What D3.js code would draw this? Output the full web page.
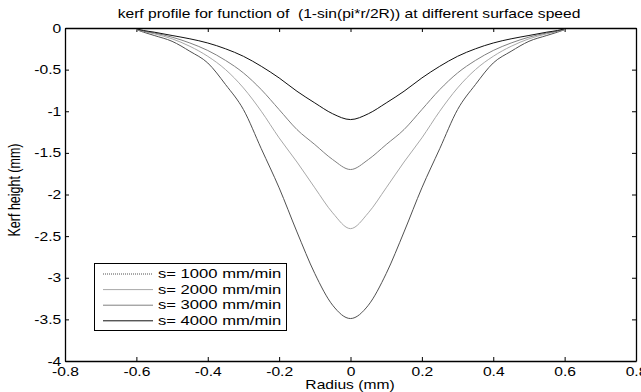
<!DOCTYPE html>
<html><head><meta charset="utf-8">
<script src="https://cdn.jsdelivr.net/npm/d3@7"></script>
<style>
body{margin:0;background:#fff;}
svg text{font-family:"Liberation Sans",Arial,Helvetica,sans-serif;fill:#000;}
</style></head>
<body><svg id="c" width="641" height="392"></svg>
<script>
const radius = [-0.6,-0.58,-0.55,-0.5,-0.45,-0.4,-0.35,-0.3,-0.25,-0.2,-0.15,-0.1,-0.05,0,0.05,0.1,0.15,0.2,0.25,0.3,0.35,0.4,0.45,0.5,0.55,0.58,0.6];
const s1000 = [-0.02,-0.05,-0.09,-0.16,-0.28,-0.42,-0.68,-0.98,-1.45,-1.92,-2.45,-2.95,-3.33,-3.49,-3.33,-2.95,-2.45,-1.92,-1.45,-0.98,-0.68,-0.42,-0.28,-0.16,-0.09,-0.05,-0.02];
const s2000 = [-0.02,-0.04,-0.07,-0.13,-0.22,-0.34,-0.50,-0.72,-1.00,-1.32,-1.61,-1.92,-2.22,-2.41,-2.22,-1.92,-1.61,-1.32,-1.00,-0.72,-0.50,-0.34,-0.22,-0.13,-0.07,-0.04,-0.02];
const s3000 = [-0.02,-0.04,-0.06,-0.11,-0.18,-0.27,-0.39,-0.54,-0.74,-0.98,-1.22,-1.40,-1.58,-1.70,-1.58,-1.40,-1.22,-0.98,-0.74,-0.54,-0.39,-0.27,-0.18,-0.11,-0.06,-0.04,-0.02];
const s4000 = [-0.01,-0.03,-0.05,-0.09,-0.13,-0.18,-0.25,-0.34,-0.46,-0.60,-0.76,-0.90,-1.03,-1.10,-1.03,-0.90,-0.76,-0.60,-0.46,-0.34,-0.25,-0.18,-0.13,-0.09,-0.05,-0.03,-0.01];
const seriesNames = ["s= 1000 mm/min","s= 2000 mm/min","s= 3000 mm/min","s= 4000 mm/min"];
const xTicks = [-0.8,-0.6,-0.4,-0.2,0,0.2,0.4,0.6,0.8];
const yTicks = [0,-0.5,-1,-1.5,-2,-2.5,-3,-3.5,-4];
const title = "kerf profile for function of  (1-sin(pi*r/2R)) at different surface speed";
const xLabel = "Radius (mm)";
const yLabel = "Kerf height (mm)";

const series = [s1000,s2000,s3000,s4000];
const styles = [
  {stroke:"#505050", legendDash:"1,1"},
  {stroke:"#a8a8a8", legendDash:null},
  {stroke:"#808080", legendDash:null},
  {stroke:"#101010", legendDash:null}
];

const FS = 12.5, SX = 1.25;
const L=65, R=636, T=28, B=361;
const svg = d3.select("#c");
const x = d3.scaleLinear().domain([-0.8,0.8]).range([L,R]);
const y = d3.scaleLinear().domain([-4,0]).range([B,T]);

const fmt = d => d===0 ? "0" : String(d);
const axB = svg.append("g").attr("transform",`translate(0,${B})`)
  .call(d3.axisBottom(x).tickValues(xTicks).tickFormat(fmt).tickSizeInner(-4).tickSizeOuter(0).tickPadding(6));
const axT = svg.append("g").attr("transform",`translate(0,${T})`)
  .call(d3.axisTop(x).tickValues(xTicks).tickFormat("").tickSizeInner(-4).tickSizeOuter(0));
const axL = svg.append("g").attr("transform",`translate(${L},0)`)
  .call(d3.axisLeft(y).tickValues(yTicks).tickFormat(fmt).tickSizeInner(-4).tickSizeOuter(0).tickPadding(3));
const axR = svg.append("g").attr("transform",`translate(${R},0)`)
  .call(d3.axisRight(y).tickValues(yTicks).tickFormat("").tickSizeInner(-4).tickSizeOuter(0));
[axB,axT,axL,axR].forEach(a=>{
  a.selectAll("path.domain").attr("stroke","#000").attr("stroke-width",1.3);
  a.selectAll(".tick line").attr("stroke","#000");
  a.selectAll("text").attr("font-size",FS).attr("font-family","Liberation Sans, Arial, sans-serif")
    .attr("fill","#000").attr("transform",`scale(${SX},1)`);
});

const line = d3.line().x((d,i)=>x(radius[i])).y(d=>y(d)).curve(d3.curveMonotoneX);
series.forEach((s,k)=>{
  svg.append("path").datum(s).attr("d",line).attr("fill","none")
    .attr("stroke",styles[k].stroke).attr("stroke-width",1);
});

function txt(px,py,str,anchor,sx,extra){
  return svg.append("text").attr("transform",`translate(${px},${py}) scale(${sx},1)${extra||""}`)
    .attr("text-anchor",anchor).attr("font-size",FS).style("white-space","pre").text(str);
}
txt(349,18,title,"middle",SX);
txt(350,389,xLabel,"middle",SX);
txt(20,190,yLabel,"middle",SX," rotate(-90)");

const lg = svg.append("g");
lg.append("rect").attr("x",94.5).attr("y",263.5).attr("width",192).attr("height",67)
  .attr("fill","#fff").attr("stroke","#000").attr("stroke-width",1);
seriesNames.forEach((n,k)=>{
  const yy = 274 + k*15.6;
  lg.append("line").attr("x1",103).attr("x2",153).attr("y1",yy).attr("y2",yy)
    .attr("stroke",styles[k].stroke).attr("stroke-width",1)
    .attr("stroke-dasharray",styles[k].legendDash);
  txt(158,yy+4.2,n,"start",1.33);
});
</script></body></html>
